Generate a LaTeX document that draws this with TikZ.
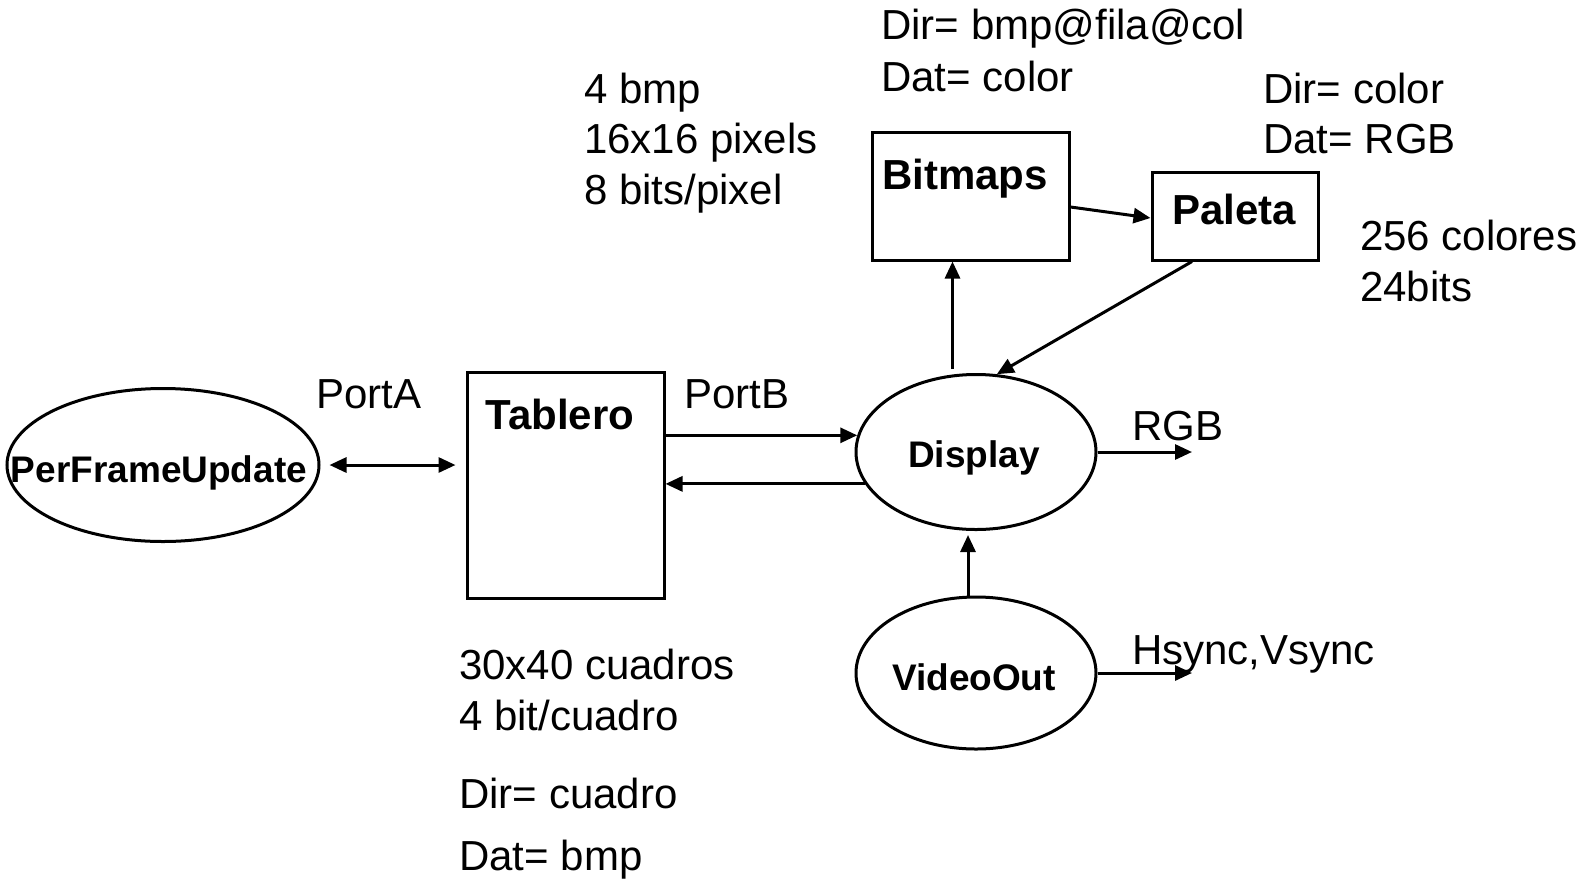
\documentclass[tikz,border=0pt]{standalone}
\usepackage{fontspec}
\setmainfont{Liberation Sans}
\usetikzlibrary{arrows.meta,shapes.geometric}

\tikzset{
  proc/.style={draw, ellipse, line width=3pt, inner sep=0pt},
  store/.style={draw, rectangle, line width=3pt, inner sep=0pt},
  lbl/.style={anchor=base west, inner sep=0pt, font=\fontsize{42}{48}\selectfont},
  title/.style={anchor=base, inner sep=0pt, font=\bfseries\fontsize{42}{48}\selectfont},
  smalltitle/.style={anchor=base, inner sep=0pt, font=\bfseries\fontsize{37}{42}\selectfont},
  tip/.tip={Triangle[length=17pt,width=15pt]},
  flow/.style={line width=3pt, -tip},
  duplex/.style={line width=3pt, tip-tip},
}

\begin{document}
\begin{tikzpicture}[x=1pt, y=-1pt]
  \useasboundingbox (0,0) rectangle (1582,879);

  % processes
  \node[proc, minimum width=312pt, minimum height=153pt] (pfu) at (163,465) {};
  \node[smalltitle] (pfutxt) at (159,482) {PerFrameUpdate};
  \node[proc, minimum width=240pt, minimum height=155pt] (disp) at (976,452) {};
  \node[smalltitle] (disptxt) at (974,467) {Display};
  \node[proc, minimum width=240pt, minimum height=152pt] (vo) at (976,673) {};
  \node[smalltitle] (votxt) at (974,690) {VideoOut};

  % memories
  \node[store, minimum width=197pt, minimum height=226pt] (tab) at (565.5,485) {};
  \node[title] (tabtxt) at (560,429) {Tablero};
  \node[store, minimum width=197pt, minimum height=128pt] (bmp) at (970.5,196) {};
  \node[title] (bmptxt) at (965,189) {Bitmaps};
  \node[store, minimum width=166pt, minimum height=88pt] (pal) at (1235,216) {};
  \node[title] (paltxt) at (1234,224) {Paleta};

  % free ends of the outputs
  \coordinate (rgbout) at (1192,452);
  \coordinate (syncout) at (1192,673);
  \coordinate (bmpin) at ([xshift=-18pt]bmp.south);

  % connectors
  \draw[duplex, shorten <=9pt, shorten >=10pt] (pfu.east) -- (pfu.east -| tab.west);
  \draw[flow] (tab.east |- disp.172) -- (disp.172);
  \draw[flow] (disp.196) -- (disp.196 -| tab.east);
  \draw[flow] (disp.east) -- (rgbout);
  \draw[flow] ([yshift=4pt]bmpin |- disp.north) -- (bmpin);
  \draw[flow] ([yshift=-11pt]bmp.east) -- ([yshift=-2pt]pal.west);
  \draw[flow] ([xshift=-43pt]pal.south) -- (disp.75);
  \draw[flow, shorten >=4pt] ([xshift=-8pt]vo.north) -- ([xshift=-8pt]vo.north |- disp.south);
  \draw[flow] (vo.east) -- (syncout);

  % annotations
  \node[lbl] (bdir) at (881,39) {Dir= bmp@fila@col};
  \node[lbl] (bdat) at (881,91) {Dat= color};
  \node[lbl] (b1) at (584,103) {4 bmp};
  \node[lbl] (b2) at (584,153) {16x16 pixels};
  \node[lbl] (b3) at (584,204) {8 bits/pixel};
  \node[lbl] (pdir) at (1263,103) {Dir= color};
  \node[lbl] (pdat) at (1263,153) {Dat= RGB};
  \node[lbl] (p1) at (1360,250) {256 colores};
  \node[lbl] (p2) at (1360,301) {24bits};
  \node[lbl] (porta) at (316,408) {PortA};
  \node[lbl] (portb) at (684,408) {PortB};
  \node[lbl] (rgb) at (1132,440) {RGB};
  \node[lbl] (sync) at (1132,664) {Hsync,Vsync};
  \node[lbl] (t1) at (459,679) {30x40 cuadros};
  \node[lbl] (t2) at (459,730) {4 bit/cuadro};
  \node[lbl] (tdir) at (459,808) {Dir= cuadro};
  \node[lbl] (tdat) at (459,870) {Dat= bmp};
\end{tikzpicture}
\end{document}
